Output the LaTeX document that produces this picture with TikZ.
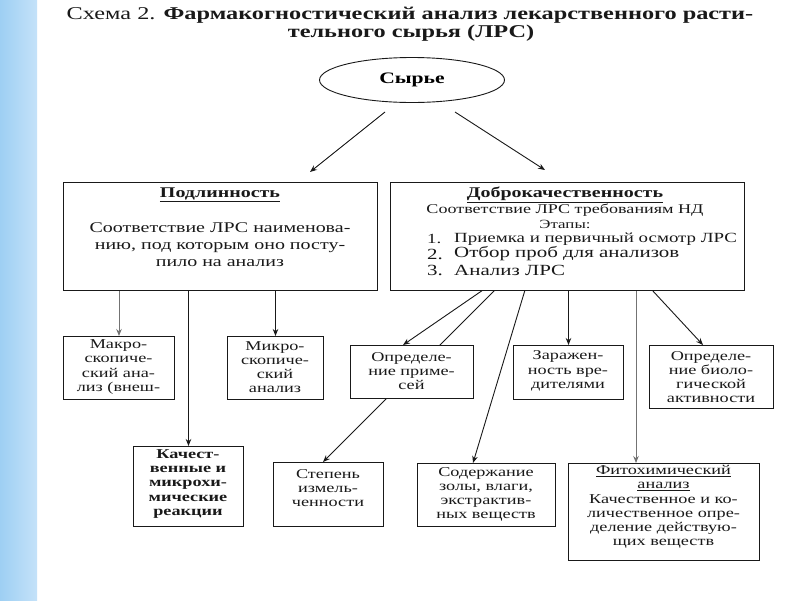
\documentclass[tikz,border=0pt]{standalone}
\usepackage{fontspec}
\setmainfont{Liberation Serif}[FakeStretch=1.35]
\usetikzlibrary{shapes.geometric,arrows.meta,backgrounds}
\newcommand\setfs[2]{\fontsize{#1}{#2}\selectfont}
\definecolor{bandL}{RGB}{158,207,243}
\definecolor{bandR}{RGB}{196,226,249}
\definecolor{ink}{RGB}{25,25,25}
\tikzset{
  box/.style={draw=ink, line width=1pt, fill=white, inner sep=0pt, anchor=north west},
  txt/.style={align=center, inner sep=0pt, text=ink},
  arr/.style={draw=ink, line width=0.9pt, -{Stealth[length=7pt,width=5.5pt]}},
  gry/.style={draw=black!55},
  sm/.style={font=\setfs{13.5}{14.2}},
  big/.style={font=\setfs{14.8}{17}},
}
\begin{document}
\begin{tikzpicture}[x=1pt,y=-1pt]
\useasboundingbox (0,0) rectangle (800,600);

% title
\node[txt, font=\setfs{18}{20}] (t1) at (410,15) {Схема 2. \textbf{Фармакогностический анализ лекарственного расти-}};
\node[txt, font=\setfs{18}{20}] (t2) at (411,33) {\textbf{тельного сырья (ЛРС)}};

% root
\node[draw=ink, line width=0.9pt, ellipse, minimum width=185, minimum height=45, inner sep=0pt, font=\setfs{16}{18}] (syr) at (412,80) {\textbf{Сырье}};

% boxes
\node[box, minimum width=314, minimum height=108] (podl) at (63,182) {};
\node[box, minimum width=354, minimum height=108] (dobr) at (390,182) {};
\node[box, minimum width=111, minimum height=63] (makro) at (63,336) {};
\node[box, minimum width=96, minimum height=63] (mikro) at (227,336) {};
\node[box, minimum width=110, minimum height=80] (kach) at (133,446) {};
\node[box, minimum width=123, minimum height=53] (opr) at (350,345) {};
\node[box, minimum width=110, minimum height=54] (zar) at (513,345) {};
\node[box, minimum width=124, minimum height=63] (bio) at (649,345) {};
\node[box, minimum width=110, minimum height=64] (step) at (273,462) {};
\node[box, minimum width=138, minimum height=63] (sod) at (417,463) {};
\node[box, minimum width=191, minimum height=97] (fito) at (568,463) {};

% texts in the upper boxes
\node[txt, big] (podlh) at (220,195) {\underline{\textbf{Подлинность}}};
\node[txt, big] (podlb) at (220,245) {Соответствие ЛРС наименова-\\нию, под которым оно посту-\\пило на анализ};

\node[txt, big] (dobrh) at (565,195) {\underline{\textbf{Доброкачественность}}};
\node[txt, font=\setfs{13.4}{15}] (dobr1) at (565,210) {Соответствие ЛРС требованиям НД};
\node[txt, font=\setfs{12.5}{14}] (dobr2) at (565,224) {Этапы:};
\node[txt, anchor=west, font=\setfs{14}{15}] (n1) at (427,239) {1.};
\node[txt, anchor=west, font=\setfs{14}{15}] (i1) at (454,239) {Приемка и первичный осмотр ЛРС};
\node[txt, anchor=west, font=\setfs{15.5}{16}] (n2) at (427,254) {2.};
\node[txt, anchor=west, font=\setfs{15.5}{16}] (i2) at (454,254) {Отбор проб для анализов};
\node[txt, anchor=west, font=\setfs{15.5}{16}] (n3) at (427,270) {3.};
\node[txt, anchor=west, font=\setfs{15.5}{16}] (i3) at (454,270) {Анализ ЛРС};

% texts in the lower boxes
\node[txt, sm] (makrot) at (118.5,367) {Макро-\\скопиче-\\ский ана-\\лиз (внеш-};
\node[txt, sm] (mikrot) at (275,367) {Микро-\\скопиче-\\ский\\анализ};
\node[txt, sm] (kacht) at (188,484) {\textbf{Качест-}\\\textbf{венные и}\\\textbf{микрохи-}\\\textbf{мические}\\\textbf{реакции}};
\node[txt, sm] (oprt) at (411.5,371) {Определе-\\ние приме-\\сей};
\node[txt, sm] (zart) at (568,371) {Заражен-\\ность вре-\\дителями};
\node[txt, sm] (biot) at (711,377) {Определе-\\ние биоло-\\гической\\активности};
\node[txt, sm] (stept) at (328,488) {Степень\\измель-\\ченности};
\node[txt, sm] (sodt) at (486,494.5) {Содержание\\золы, влаги,\\экстрактив-\\ных веществ};
\node[txt, sm] (fitot) at (663.5,507) {\underline{Фитохимический}\\\underline{анализ}\\Качественное и ко-\\личественное опре-\\деление действую-\\щих веществ};

% connector ends
\coordinate (s1) at (385,112);
\coordinate (s1e) at (310,172);
\coordinate (s2) at (455,112);
\coordinate (s2e) at (545,170);
\coordinate (d1) at (483,290);
\coordinate (d1e) at (403,345);
\coordinate (d2) at (495,290);
\coordinate (d2e) at (323,462);
\coordinate (d3) at (525,290);
\coordinate (d3e) at (473,463);
\coordinate (d5) at (636,290);
\coordinate (d5e) at (636,463);
\coordinate (d6) at (652,290);
\coordinate (d6e) at (703,345);

\begin{pgfonlayer}{background}
  \fill[white] (0,0) rectangle (800,600);
  \shade[left color=bandL, right color=bandR] (0,0) rectangle (37,600);
  \draw[arr] (s1) -- (s1e);
  \draw[arr] (s2) -- (s2e);
  \draw[arr, gry] (podl.south -| makro.north) -- (makro.north);
  \draw[arr] (podl.south -| mikro.north) -- (mikro.north);
  \draw[arr] (podl.south -| kach.north) -- (kach.north);
  \draw[arr] (d1) -- (d1e);
  \draw[arr] (d2) -- (d2e);
  \draw[arr] (d3) -- (d3e);
  \draw[arr] (dobr.south -| zar.north) -- (zar.north);
  \draw[arr, gry] (d5) -- (d5e);
  \draw[arr] (d6) -- (d6e);
\end{pgfonlayer}
\end{tikzpicture}
\end{document}
